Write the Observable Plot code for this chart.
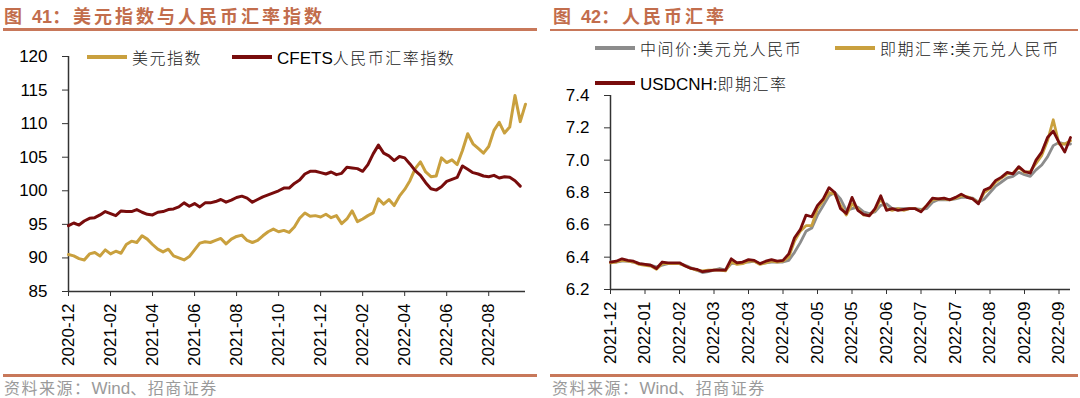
<!DOCTYPE html>
<html>
<head>
<meta charset="utf-8">
<script src="https://cdn.jsdelivr.net/npm/d3@7"></script>
<script src="https://cdn.jsdelivr.net/npm/@observablehq/plot@0.6"></script>
<style>
  html, body { margin: 0; padding: 0; background: #fff; }
  #page { position: relative; width: 1080px; height: 398px; overflow: hidden; background: #fff;
          font-family: "Liberation Sans", Arial, "Noto Sans CJK SC", sans-serif; }
  .title { position: absolute; top: 3px; font-family: "Noto Sans CJK SC", sans-serif; font-weight: bold;
           font-size: 18px; letter-spacing: 3px; color: #c26d4c; white-space: nowrap; line-height: 24px; }
  .title .num { font-family: "Liberation Sans", Arial, sans-serif; font-weight: bold; letter-spacing: 0; }
  .hline { position: absolute; height: 2.5px; background: #c8785a; }
  .src { position: absolute; top: 376px; font-family: "Noto Sans CJK SC", sans-serif; font-size: 16px;
         letter-spacing: 1.5px; color: #9a9a9a; white-space: nowrap; line-height: 22px; }
  .src .w { font-family: "Liberation Sans", Arial, sans-serif; letter-spacing: 0; font-size: 17px; }
  .chart { position: absolute; top: 40px; }
  .leg { position: absolute; display: flex; align-items: center; white-space: nowrap; height: 22px; }
  .leg .sw { display: inline-block; width: 40px; height: 3.5px; margin-right: 5px; }
  .leg .t { font-family: "Noto Sans CJK SC", sans-serif; font-size: 16px; letter-spacing: 1.5px; color: #222; font-weight: 300; }
  .leg .a { font-family: "Liberation Sans", Arial, sans-serif; font-size: 17px; letter-spacing: 0; color: #000; font-weight: normal; }
</style>
</head>
<body>
<div id="page">
  <div class="title" style="left:4px;">图 <span class="num">41</span>：美元指数与人民币汇率指数</div>
  <div class="hline" style="left:3px; width:534px; top:28px;"></div>
  <div class="title" style="left:553px;">图 <span class="num">42</span>：人民币汇率</div>
  <div class="hline" style="left:550px; width:528px; top:28.5px;"></div>

  <div id="left" class="chart" style="left:0px;"></div>
  <div id="right" class="chart" style="left:540px;"></div>

  <div class="leg" style="left:87px; top:46px;"><span class="sw" style="background:#c9a03e"></span><span class="t">美元指数</span></div>
  <div class="leg" style="left:232px; top:46px;"><span class="sw" style="background:#780c0c"></span><span class="t"><span class="a">CFETS</span>人民币汇率指数</span></div>

  <div class="leg" style="left:595px; top:37px;"><span class="sw" style="background:#8c8c8c"></span><span class="t">中间价<span class="a">:</span>美元兑人民币</span></div>
  <div class="leg" style="left:835px; top:37px;"><span class="sw" style="background:#c9a03e"></span><span class="t">即期汇率<span class="a">:</span>美元兑人民币</span></div>
  <div class="leg" style="left:595px; top:72px;"><span class="sw" style="background:#780c0c"></span><span class="t"><span class="a">USDCNH:</span>即期汇率</span></div>

  <div class="hline" style="left:3px; width:534px; top:374px;"></div>
  <div class="hline" style="left:550px; width:528px; top:374px;"></div>
  <div class="src" style="left:4px;">资料来源：<span class="w">Wind</span>、招商证券</div>
  <div class="src" style="left:552px;">资料来源：<span class="w">Wind</span>、招商证券</div>
</div>
<script>
// ---------- Left chart data (approx. weekly points from 2020-12) ----------
const leftTickLabels = ["2020-12","2021-02","2021-04","2021-06","2021-08","2021-10","2021-12","2022-02","2022-04","2022-06","2022-08"];
const leftYTicks = [85, 90, 95, 100, 105, 110, 115, 120];
const dxy = [
  90.5, 90.3, 89.9, 89.7, 90.6, 90.8, 90.3, 91.2, 90.6, 91.0,
  90.7, 92.0, 92.5, 92.3, 93.3, 92.8, 92.0, 91.3, 90.9, 91.3,
  90.3, 90.0, 89.7, 90.2, 91.2, 92.2, 92.4, 92.3, 92.6, 92.9,
  92.1, 92.8, 93.2, 93.4, 92.6, 92.3, 92.6, 93.3, 93.9, 94.3,
  93.9, 94.1, 93.8, 94.6, 95.9, 96.7, 96.2, 96.3, 96.1, 96.5,
  96.0, 96.3, 95.1, 95.8, 97.0, 95.4, 95.8, 96.3, 96.7, 98.8,
  98.0, 98.7, 97.8, 99.2, 100.2, 101.5, 103.3, 104.3, 102.8, 102.1,
  102.2, 104.9, 104.2, 104.6, 103.9, 106.0, 108.5, 107.0, 106.3, 105.6,
  106.6, 109.0, 110.2, 108.6, 109.5, 114.2, 110.3, 112.9
];
const cfets = [
  94.8, 95.2, 94.9, 95.5, 95.9, 96.0, 96.4, 96.9, 96.6, 96.3,
  97.0, 96.9, 96.9, 97.2, 96.8, 96.5, 96.4, 96.8, 96.9, 97.2,
  97.3, 97.6, 98.2, 97.7, 98.1, 97.6, 98.2, 98.2, 98.4, 98.7,
  98.3, 98.6, 99.0, 99.2, 98.9, 98.3, 98.7, 99.1, 99.4, 99.7,
  100.0, 100.4, 100.4, 101.1, 101.6, 102.5, 102.9, 102.9, 102.7, 102.5,
  102.8, 102.4, 102.6, 103.5, 103.4, 103.3, 102.9, 103.9, 105.5, 106.8,
  105.6, 105.2, 104.5, 105.1, 104.9, 104.0, 103.0, 102.3, 101.2, 100.3,
  100.1, 100.6, 101.4, 101.7, 102.0, 103.7, 103.2, 102.7, 102.5, 102.2,
  102.1, 102.3, 101.9, 102.1, 102.0, 101.5, 100.7
];

// ---------- Right chart data (trading-day samples from 2021-12) ----------
const rightTickLabels = ["2021-12","2022-01","2022-02","2022-03","2022-03","2022-04","2022-05","2022-05","2022-06","2022-07","2022-07","2022-08","2022-09","2022-09"];
const rightYTicks = [6.2, 6.4, 6.6, 6.8, 7.0, 7.2, 7.4];
const midRate = [
  6.37, 6.37, 6.375, 6.375, 6.37, 6.36, 6.355, 6.35, 6.34, 6.35,
  6.36, 6.36, 6.36, 6.35, 6.335, 6.32, 6.305, 6.31, 6.32, 6.33,
  6.32, 6.36, 6.365, 6.37, 6.37, 6.375, 6.36, 6.365, 6.37, 6.37,
  6.37, 6.38, 6.43, 6.49, 6.56, 6.58, 6.66, 6.72, 6.78, 6.80,
  6.76, 6.69, 6.70, 6.71, 6.68, 6.67, 6.68, 6.72, 6.73, 6.70,
  6.70, 6.70, 6.70, 6.70, 6.695, 6.70, 6.74, 6.755, 6.755, 6.755,
  6.76, 6.77, 6.77, 6.765, 6.74, 6.76, 6.80, 6.84, 6.865, 6.89,
  6.90, 6.925, 6.91, 6.90, 6.94, 6.97, 7.02, 7.09, 7.11, 7.10,
  7.10
];
const spotRate = [
  6.365, 6.37, 6.38, 6.375, 6.37, 6.355, 6.35, 6.345, 6.325, 6.36,
  6.36, 6.36, 6.36, 6.345, 6.33, 6.32, 6.315, 6.32, 6.32, 6.32,
  6.315, 6.37, 6.355, 6.36, 6.375, 6.375, 6.355, 6.365, 6.375, 6.37,
  6.375, 6.40, 6.50, 6.56, 6.595, 6.595, 6.70, 6.75, 6.80, 6.79,
  6.72, 6.66, 6.73, 6.70, 6.66, 6.66, 6.69, 6.76, 6.70, 6.69,
  6.70, 6.69, 6.70, 6.70, 6.685, 6.72, 6.755, 6.76, 6.76, 6.755,
  6.765, 6.78, 6.775, 6.76, 6.735, 6.80, 6.825, 6.865, 6.89, 6.915,
  6.92, 6.955, 6.925, 6.93, 6.98, 7.03, 7.12, 7.25, 7.10, 7.10,
  7.12
];
const usdcnh = [
  6.37, 6.375, 6.39, 6.38, 6.375, 6.36, 6.355, 6.35, 6.33, 6.37,
  6.365, 6.365, 6.365, 6.345, 6.33, 6.325, 6.31, 6.315, 6.32, 6.32,
  6.32, 6.39, 6.365, 6.37, 6.385, 6.38, 6.36, 6.375, 6.385, 6.375,
  6.38, 6.42, 6.52, 6.57, 6.66, 6.65, 6.72, 6.76, 6.83, 6.80,
  6.70, 6.67, 6.77, 6.69, 6.665, 6.655, 6.70, 6.78, 6.69, 6.70,
  6.69, 6.695, 6.70, 6.70, 6.68, 6.72, 6.765, 6.76, 6.765, 6.755,
  6.77, 6.79, 6.77, 6.76, 6.73, 6.815, 6.83, 6.875, 6.895, 6.925,
  6.915, 6.96, 6.93, 6.92, 7.00, 7.05, 7.14, 7.18, 7.11, 7.05,
  7.14
];

const GOLD = "#c9a03e", DARKRED = "#780c0c", GREY = "#8c8c8c", AXIS = "#333";
const baseStyle = {fontFamily: "'Liberation Sans', Arial, sans-serif", fontSize: "17px", color: "#000", background: "transparent", overflow: "visible"};

const leftStep = 8;
const left = Plot.plot({
  width: 540, height: 332,
  marginLeft: 68, marginRight: 15, marginTop: 16, marginBottom: 81,
  style: baseStyle,
  x: {type: "linear", domain: [0, 87], axis: null},
  y: {domain: [85, 120], axis: null},
  marks: [
    Plot.axisY(leftYTicks, {tickSize: 6, tickPadding: 15, stroke: AXIS, fontSize: 17, tickFormat: d => String(d)}),
    Plot.axisX(leftTickLabels.map((_, i) => i * leftStep), {
      tickFormat: d => leftTickLabels[d / leftStep], tickRotate: -90, tickSize: 5, tickPadding: 7,
      stroke: AXIS, fontSize: 17
    }),
    Plot.ruleX([0], {stroke: AXIS, strokeWidth: 1.5}),
    Plot.ruleY([85], {stroke: AXIS, strokeWidth: 1.5}),
    Plot.lineY(dxy, {stroke: GOLD, strokeWidth: 3, strokeLinejoin: "round"}),
    Plot.lineY(cfets, {stroke: DARKRED, strokeWidth: 3, strokeLinejoin: "round"})
  ]
});
document.getElementById("left").appendChild(left);

const rightStep = 6;
const right = Plot.plot({
  width: 540, height: 332,
  marginLeft: 70, marginRight: 10, marginTop: 55, marginBottom: 83,
  style: baseStyle,
  x: {type: "linear", domain: [0, 80], axis: null},
  y: {domain: [6.2, 7.4], axis: null},
  marks: [
    Plot.axisY(rightYTicks, {tickSize: 6, tickPadding: 15, stroke: AXIS, fontSize: 17, tickFormat: d3.format(".1f")}),
    Plot.axisX(rightTickLabels.map((_, i) => i * rightStep), {
      tickFormat: d => rightTickLabels[d / rightStep], tickRotate: -90, tickSize: 5, tickPadding: 7,
      stroke: AXIS, fontSize: 17
    }),
    Plot.ruleX([0], {stroke: AXIS, strokeWidth: 1.5}),
    Plot.ruleY([6.2], {stroke: AXIS, strokeWidth: 1.5}),
    Plot.lineY(midRate, {stroke: GREY, strokeWidth: 2.8, strokeLinejoin: "round"}),
    Plot.lineY(spotRate, {stroke: GOLD, strokeWidth: 2.8, strokeLinejoin: "round"}),
    Plot.lineY(usdcnh, {stroke: DARKRED, strokeWidth: 2.8, strokeLinejoin: "round"})
  ]
});
document.getElementById("right").appendChild(right);
</script>
</body>
</html>
